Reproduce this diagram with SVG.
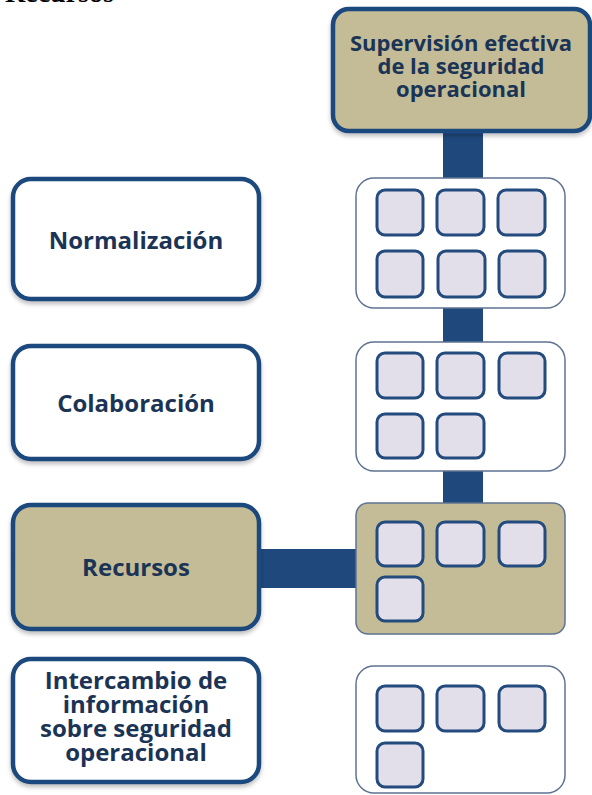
<svg xmlns="http://www.w3.org/2000/svg" width="592" height="795" viewBox="0 0 592 795">
<defs>
<filter id="sh" x="-10%" y="-10%" width="120%" height="130%">
<feDropShadow dx="0" dy="3" stdDeviation="2" flood-color="#000" flood-opacity="0.25"/>
</filter>
</defs>
<style>
.lbox{fill:#ffffff;stroke:#1f497d;stroke-width:4.5}
.rbox{fill:#ffffff;stroke:#5f7391;stroke-width:1.5}
.rtan{fill:#c4bc96;stroke:#5f7391;stroke-width:1.5}
.sq{fill:#e3dfea;stroke:#234b7e;stroke-width:3}
.bar{fill:#1f497d}
.t{font-family:"Open Sans","Noto Sans",sans-serif;font-weight:bold;fill:#1b3456;text-anchor:middle}
</style>
<rect width="592" height="795" fill="#ffffff"/>
<text x="5" y="1.5" font-family="Liberation Serif,serif" font-weight="bold" font-size="28" fill="#000">Recursos</text>
<g id="connectors">
<rect class="bar" x="443" y="128" width="40" height="52"/>
<rect class="bar" x="443" y="306" width="40" height="38"/>
<rect class="bar" x="443" y="469" width="40" height="36"/>
<rect class="bar" x="258" y="549" width="99" height="39"/>
</g>
<g id="top">
<rect x="333" y="9" width="257" height="122" rx="16" class="lbox" style="fill:#c4bc96" filter="url(#sh)"/>
<text class="t" font-size="22" x="461" y="51"><tspan x="461">Supervisión efectiva</tspan><tspan x="461" dy="23">de la seguridad</tspan><tspan x="461" dy="23">operacional</tspan></text>
</g>
<g id="normalizacion">
<rect x="13" y="179" width="246" height="120" rx="18" class="lbox" filter="url(#sh)"/>
<text class="t" font-size="24" x="136" y="249">Normalización</text>
</g>
<g id="colaboracion">
<rect x="13" y="346" width="246" height="113" rx="18" class="lbox" filter="url(#sh)"/>
<text class="t" font-size="24" x="136" y="412">Colaboración</text>
</g>
<g id="recursos">
<rect x="13" y="505" width="246" height="124" rx="18" class="lbox" style="fill:#c4bc96" filter="url(#sh)"/>
<text class="t" font-size="24" x="136" y="576">Recursos</text>
</g>
<g id="intercambio">
<rect x="13" y="659" width="246" height="123" rx="18" class="lbox" filter="url(#sh)"/>
<text class="t" font-size="24" x="136" y="689"><tspan x="136">Intercambio de</tspan><tspan x="136" dy="24">información</tspan><tspan x="136" dy="24">sobre seguridad</tspan><tspan x="136" dy="24">operacional</tspan></text>
</g>
<g id="grupo1">
<rect x="356" y="178" width="209" height="130" rx="18" class="rbox"/>
<rect class="sq" x="377" y="190" width="46" height="45" rx="8"/>
<rect class="sq" x="437" y="190" width="47" height="45" rx="8"/>
<rect class="sq" x="498" y="190" width="47" height="45" rx="8"/>
<rect class="sq" x="377" y="251" width="46" height="46" rx="8"/>
<rect class="sq" x="438" y="251" width="47" height="46" rx="8"/>
<rect class="sq" x="499" y="251" width="46" height="46" rx="8"/>
</g>
<g id="grupo2">
<rect x="356" y="342" width="209" height="129" rx="18" class="rbox"/>
<rect class="sq" x="377" y="353" width="46" height="45" rx="8"/>
<rect class="sq" x="437" y="353" width="47" height="45" rx="8"/>
<rect class="sq" x="499" y="353" width="46" height="45" rx="8"/>
<rect class="sq" x="377" y="414" width="46" height="44" rx="8"/>
<rect class="sq" x="437" y="414" width="47" height="44" rx="8"/>
</g>
<g id="grupo3">
<rect x="356" y="503" width="209" height="131" rx="12" class="rtan"/>
<rect class="sq" x="377" y="522" width="46" height="44" rx="8"/>
<rect class="sq" x="437" y="522" width="47" height="44" rx="8"/>
<rect class="sq" x="499" y="522" width="46" height="44" rx="8"/>
<rect class="sq" x="377" y="577" width="46" height="44" rx="8"/>
</g>
<g id="grupo4">
<rect x="356" y="666" width="209" height="127" rx="18" class="rbox"/>
<rect class="sq" x="377" y="686" width="46" height="45" rx="8"/>
<rect class="sq" x="437" y="686" width="47" height="45" rx="8"/>
<rect class="sq" x="499" y="686" width="46" height="45" rx="8"/>
<rect class="sq" x="377" y="743" width="46" height="44" rx="8"/>
</g>
</svg>
